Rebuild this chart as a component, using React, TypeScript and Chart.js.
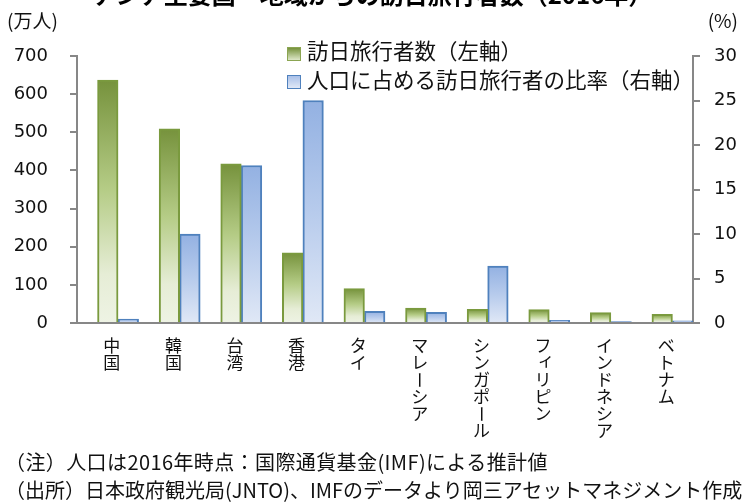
import React, { useEffect, useRef } from 'react';
import { Chart, registerables } from 'chart.js';
Chart.register(...registerables);

const categories = ['中国', '韓国', '台湾', '香港', 'タイ', 'マレーシア', 'シンガポール', 'フィリピン', 'インドネシア', 'ベトナム'];
const visitors = [637, 509, 417, 184, 90, 39, 36, 35, 27, 23];
const ratio = [0.45, 10.0, 17.7, 25.0, 1.3, 1.2, 6.4, 0.3, 0.15, 0.25];
const leftTicks = [0, 100, 200, 300, 400, 500, 600, 700];
const rightTicks = [0, 5, 10, 15, 20, 25, 30];

const seriesLeftName = '訪日旅行者数（左軸）';
const seriesRightName = '人口に占める訪日旅行者の比率（右軸）';
const titleText = 'アジア主要国・地域からの訪日旅行者数（2016年）';
const leftUnit = '(万人)';
const rightUnit = '(%)';
const note1 = '（注）人口は2016年時点：国際通貨基金(IMF)による推計値';
const note2 = '（出所）日本政府観光局(JNTO)、IMFのデータより岡三アセットマネジメント作成';

const JP = '"Noto Sans CJK JP", "Noto Sans", sans-serif';
const NUM = '"DejaVu Sans", Verdana, sans-serif';
const AXIS = '#878787';

const SMALL = 'ァィゥェォッャュョ';

function gradFill(axisId: string, stops: [number, string][], fallback: string) {
  return (ctx: any) => {
    const chart = ctx.chart;
    const scale = chart.scales && chart.scales[axisId];
    if (!chart.chartArea || !scale || ctx.raw == null) return fallback;
    const top = scale.getPixelForValue(ctx.raw);
    const bottom = scale.getPixelForValue(0);
    if (!isFinite(top) || Math.abs(bottom - top) < 1) return fallback;
    const g = chart.ctx.createLinearGradient(0, top, 0, bottom);
    stops.forEach(([o, c]) => g.addColorStop(o, c));
    return g;
  };
}

const xLabelPlugin = {
  id: 'xLabelsVertical',
  afterDraw(chart: any) {
    const ctx = chart.ctx;
    const xs = chart.scales.x;
    ctx.save();
    ctx.font = `17px ${JP}`;
    ctx.fillStyle = '#111';
    ctx.textAlign = 'center';
    ctx.textBaseline = 'middle';
    categories.forEach((label, i) => {
      const x = xs.getPixelForValue(i) + 4;
      Array.from(label).forEach((ch, j) => {
        const y = 346 + j * 17;
        if (ch === 'ー') {
          ctx.save();
          ctx.translate(x, y);
          ctx.rotate(Math.PI / 2);
          ctx.fillText(ch, 0, 0);
          ctx.restore();
        } else if (SMALL.includes(ch)) {
          ctx.fillText(ch, x + 3, y - 3);
        } else {
          ctx.fillText(ch, x, y);
        }
      });
    });
    ctx.restore();
  },
};

export default function App() {
  const ref = useRef<HTMLCanvasElement | null>(null);

  useEffect(() => {
    if (!ref.current) return;
    const chart = new Chart(ref.current, {
      type: 'bar',
      data: {
        labels: categories,
        datasets: [
          {
            label: '_spacer',
            data: categories.map(() => null),
            backgroundColor: 'rgba(0,0,0,0)',
            yAxisID: 'y',
          },
          {
            label: seriesLeftName,
            data: visitors,
            yAxisID: 'y',
            backgroundColor: gradFill('y', [[0, '#76923C'], [0.45, '#B5CC86'], [0.8, '#E6EDD6'], [1, '#EEF3E4']], '#9BB765'),
            borderColor: '#7A9A3E',
            borderWidth: 2,
          },
          {
            label: seriesRightName,
            data: ratio,
            yAxisID: 'y2',
            backgroundColor: gradFill('y2', [[0, '#93B1E2'], [0.5, '#B7CBEC'], [1, '#E0E8F6']], '#B7CBEC'),
            borderColor: '#4F81BD',
            borderWidth: 2,
          },
        ],
      },
      options: {
        responsive: false,
        animation: false,
        layout: { padding: { top: 56, left: 0, right: 0, bottom: 0 } },
        plugins: {
          legend: { display: false },
          title: { display: false },
          tooltip: { enabled: false },
        },
        datasets: { bar: { categoryPercentage: 1, barPercentage: 1 } },
        scales: {
          x: {
            grid: { display: false },
            border: { display: true, color: AXIS, width: 2 },
            ticks: { display: false },
            afterFit: (s: any) => { s.height = 179; },
          },
          y: {
            position: 'left',
            min: leftTicks[0],
            max: leftTicks[leftTicks.length - 1],
            ticks: {
              stepSize: leftTicks[1] - leftTicks[0],
              padding: 22,
              color: '#111',
              font: { family: NUM, size: 18 },
            },
            grid: { drawOnChartArea: false, drawTicks: true, tickLength: 7, color: AXIS, lineWidth: 2 },
            border: { display: true, color: AXIS, width: 2 },
            afterFit: (s: any) => { s.width = 77; },
          },
          y2: {
            position: 'right',
            min: rightTicks[0],
            max: rightTicks[rightTicks.length - 1],
            ticks: {
              stepSize: rightTicks[1] - rightTicks[0],
              padding: 14,
              color: '#111',
              font: { family: NUM, size: 18 },
            },
            grid: { drawOnChartArea: false, drawTicks: true, tickLength: 7, color: AXIS, lineWidth: 2 },
            border: { display: true, color: AXIS, width: 2 },
            afterFit: (s: any) => { s.width = 52; },
          },
        },
      },
      plugins: [xLabelPlugin],
    } as any);
    return () => chart.destroy();
  }, []);

  const sq = (bg: string, border: string, top: number): React.CSSProperties => ({
    position: 'absolute', left: 287, top, width: 12, height: 12, background: bg, border: `1.5px solid ${border}`,
  });

  return (
    <div style={{ position: 'absolute', left: 0, top: 0, width: 745, height: 502, overflow: 'hidden', background: '#fff' }}>
      <canvas ref={ref} width={745} height={502} style={{ position: 'absolute', left: 0, top: 0, width: 745, height: 502 }} />
      <div style={{ position: 'absolute', left: 0, top: -18, width: 745, textAlign: 'center', font: `bold 24px ${JP}`, lineHeight: '24px', whiteSpace: 'nowrap', color: '#000' }}>{titleText}</div>
      <div style={{ position: 'absolute', left: 7, top: 8, font: `19px ${JP}`, lineHeight: '24px', whiteSpace: 'nowrap', color: '#111' }}>{leftUnit}</div>
      <div style={{ position: 'absolute', right: 7, top: 8, font: `19px ${JP}`, lineHeight: '24px', whiteSpace: 'nowrap', color: '#111' }}>{rightUnit}</div>
      <div style={sq('linear-gradient(to bottom, #76923C, #DDE7C8)', '#8BA552', 47)} />
      <div style={{ position: 'absolute', left: 307, top: 36, font: `21.5px ${JP}`, lineHeight: '28px', whiteSpace: 'nowrap', color: '#111' }}>{seriesLeftName}</div>
      <div style={sq('linear-gradient(to bottom, #A9C0E8, #E0E8F6)', '#4F81BD', 75)} />
      <div style={{ position: 'absolute', left: 307, top: 65, font: `21.5px ${JP}`, lineHeight: '28px', whiteSpace: 'nowrap', color: '#111' }}>{seriesRightName}</div>
      <div style={{ position: 'absolute', left: 5, top: 449, font: `20px ${JP}`, lineHeight: '26px', whiteSpace: 'nowrap', color: '#111', letterSpacing: '0.4px' }}>{note1}</div>
      <div style={{ position: 'absolute', left: 5, top: 477, font: `20px ${JP}`, lineHeight: '26px', whiteSpace: 'nowrap', color: '#111' }}>{note2}</div>
    </div>
  );
}
